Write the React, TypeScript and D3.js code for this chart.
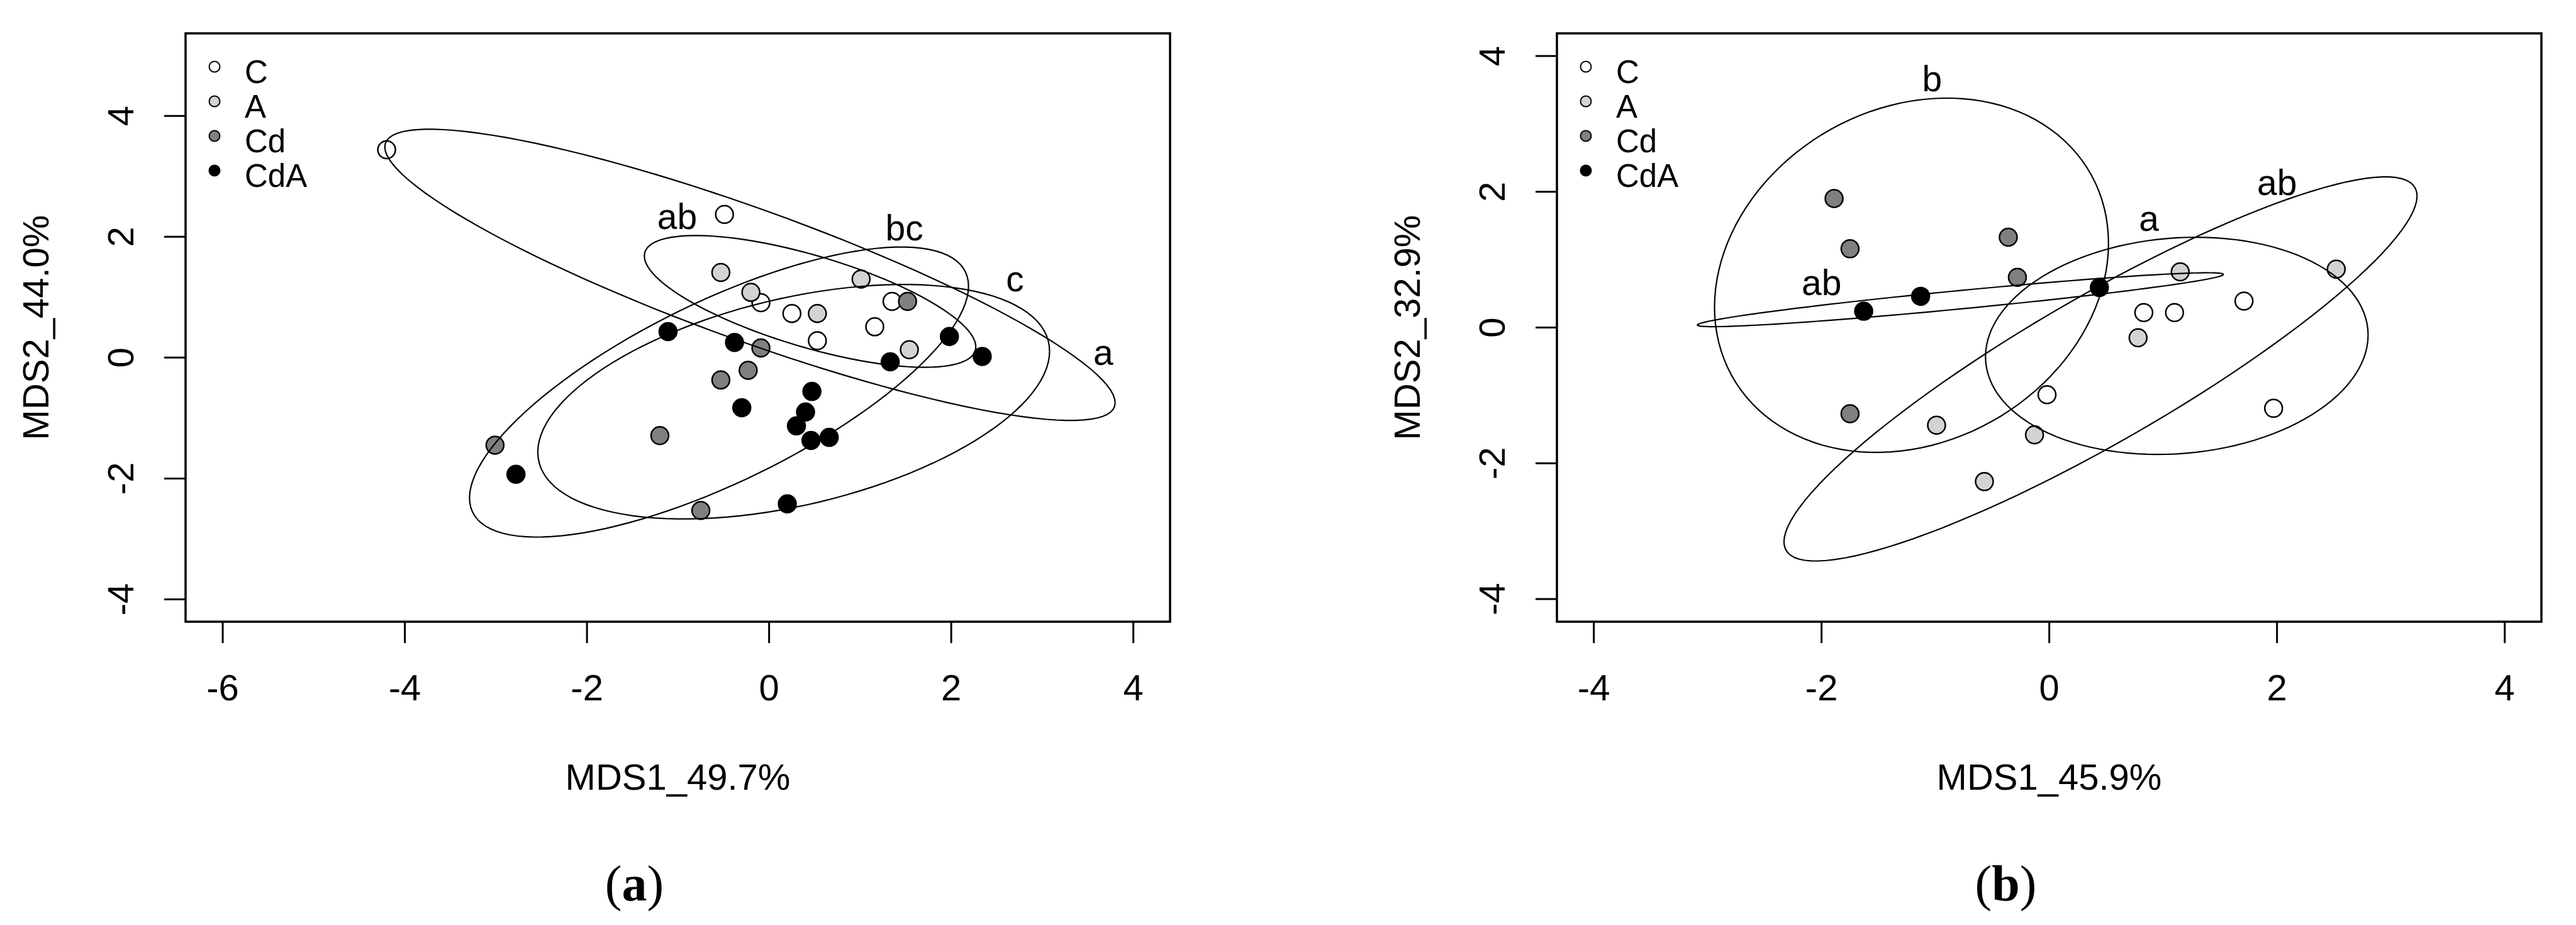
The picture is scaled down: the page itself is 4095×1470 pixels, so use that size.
import React from 'react';
import * as d3 from 'd3';

// ---------- data ----------
const groupNames = ['C', 'A', 'Cd', 'CdA'];
const groupFills = ['#ffffff', '#d3d3d3', '#808080', '#000000'];

// panel (a) points [MDS1, MDS2]
const aC = [[-4.20, 3.44], [-0.49, 2.37], [-0.09, 0.91], [0.25, 0.73], [1.35, 0.93], [1.16, 0.51], [0.53, 0.28]];
const aA = [[-0.53, 1.41], [-0.20, 1.08], [0.53, 0.73], [1.01, 1.30], [1.54, 0.13]];
const aCd = [[1.52, 0.93], [-0.09, 0.16], [-0.23, -0.21], [-0.53, -0.37], [-1.20, -1.29], [-3.01, -1.45], [-0.75, -2.53]];
const aCdA = [[-1.11, 0.43], [-0.38, 0.25], [1.98, 0.35], [2.34, 0.02], [1.33, -0.07], [0.47, -0.56], [-0.30, -0.83],
  [0.40, -0.90], [0.30, -1.13], [0.46, -1.37], [0.66, -1.32], [-2.78, -1.93], [0.20, -2.42]];

// panel (b) points
const bC = [[0.83, 0.22], [1.10, 0.22], [1.71, 0.39], [-0.02, -0.99], [1.97, -1.19]];
const bA = [[1.15, 0.82], [2.52, 0.86], [0.78, -0.15], [-0.99, -1.44], [-0.13, -1.58], [-0.57, -2.27]];
const bCd = [[-1.89, 1.90], [-1.75, 1.16], [-0.36, 1.33], [-0.28, 0.74], [-1.75, -1.27]];
const bCdA = [[-1.63, 0.24], [-1.13, 0.46], [0.44, 0.59]];

// ellipses [centerX, centerY, halfWidth, halfHeight, correlation] per group (C, A, Cd, CdA)
const aEllipses = [
  [-0.21, 1.37, 4.01, 2.41, -0.878],
  [0.45, 0.93, 1.82, 1.09, -0.69],
  [-0.55, -0.57, 2.74, 2.40, 0.73],
  [0.27, -0.73, 2.81, 1.94, 0.43],
];
const bEllipses = [
  [1.12, -0.27, 1.68, 1.60, 0.10],
  [0.45, -0.61, 2.78, 2.83, 0.90],
  [-1.21, 0.77, 1.73, 2.61, 0.18],
  [-0.78, 0.41, 2.31, 0.397, 0.9395],
];

// group letters [text, x, y(baseline)]
const aLetters = [['a', 3.67, -0.12], ['ab', -1.01, 2.13], ['bc', 1.485, 1.94], ['c', 2.70, 1.10]];
const bLetters = [['a', 0.875, 1.42], ['ab', 2.00, 1.955], ['b', -1.03, 3.48], ['ab', -2.00, 0.48]];

const aXTicks = [-6, -4, -2, 0, 2, 4];
const bXTicks = [-4, -2, 0, 2, 4];
const yTicks = [-4, -2, 0, 2, 4];

const aXDomain = [-6.408, 4.403];
const aYDomain = [-4.370, 5.366];
const bXDomain = [-4.324, 4.322];
const bYDomain = [-4.334, 4.334];

// ---------- layout ----------
const W = 4095;
const H = 1470;
const TOP = 53;
const BOTTOM = 988;
const PW = 1565;
const SANS = '"Liberation Sans", Arial, sans-serif';
const SERIF = '"Liberation Serif", "Times New Roman", serif';

function ellipsePath(e: number[], xs: any, ys: any) {
  const [cx, cy, sx, sy, r] = e;
  const n = 120;
  const q = Math.sqrt(1 - r * r);
  const pts = d3.range(n + 1).map((i) => {
    const t = (2 * Math.PI * i) / n;
    return [xs(cx + sx * Math.cos(t)), ys(cy + sy * (r * Math.cos(t) + q * Math.sin(t)))] as [number, number];
  });
  return d3.line()(pts) || '';
}

function Panel(props: any) {
  const { left, xDomain, yDomain, xTicks, groups, ellipses, letters, xLabel, yLabel, caption } = props;
  const right = left + PW;
  const xs = d3.scaleLinear().domain(xDomain).range([left, right]);
  const ys = d3.scaleLinear().domain(yDomain).range([BOTTOM, TOP]);
  const cxBox = (left + right) / 2;
  const cyBox = (TOP + BOTTOM) / 2;
  return (
    <g>
      {/* points */}
      {groups.map((pts: number[][], gi: number) =>
        pts.map((p, i) => (
          <circle key={`p${gi}-${i}`} cx={xs(p[0])} cy={ys(p[1])} r={14}
            fill={groupFills[gi]} stroke="#000" strokeWidth={2.5} />
        ))
      )}
      {/* ellipses */}
      {ellipses.map((e: number[], i: number) => (
        <path key={`e${i}`} d={ellipsePath(e, xs, ys)} fill="none" stroke="#000" strokeWidth={2.2} />
      ))}
      {/* letters */}
      {letters.map((l: any[], i: number) => (
        <text key={`l${i}`} x={xs(l[1])} y={ys(l[2])} textAnchor="middle" fontFamily={SANS} fontSize={57} fill="#000">{l[0]}</text>
      ))}
      {/* legend */}
      {groupNames.map((g, i) => (
        <g key={`lg${i}`}>
          <circle cx={left + 46} cy={106 + i * 55} r={8.5} fill={groupFills[i]} stroke="#000" strokeWidth={2} />
          <text x={left + 94} y={106 + i * 55 + 25.5} fontFamily={SANS} fontSize={51} fill="#000">{g}</text>
        </g>
      ))}
      {/* box */}
      <rect x={left} y={TOP} width={PW} height={BOTTOM - TOP} fill="none" stroke="#000" strokeWidth={3.5} />
      {/* x axis */}
      {xTicks.map((t: number) => (
        <g key={`xt${t}`}>
          <line x1={xs(t)} x2={xs(t)} y1={BOTTOM} y2={BOTTOM + 34} stroke="#000" strokeWidth={3} />
          <text x={xs(t)} y={1113} textAnchor="middle" fontFamily={SANS} fontSize={58} fill="#000">{String(t)}</text>
        </g>
      ))}
      {/* y axis */}
      {yTicks.map((t: number) => (
        <g key={`yt${t}`}>
          <line x1={left - 34} x2={left} y1={ys(t)} y2={ys(t)} stroke="#000" strokeWidth={3} />
          <text transform={`translate(${left - 83},${ys(t)}) rotate(-90)`} textAnchor="middle" fontFamily={SANS} fontSize={58} fill="#000">{String(t)}</text>
        </g>
      ))}
      <text x={cxBox} y={1255} textAnchor="middle" fontFamily={SANS} fontSize={58} fill="#000">{xLabel}</text>
      <text transform={`translate(${left - 218},${cyBox}) rotate(-90)`} textAnchor="middle" fontFamily={SANS} fontSize={58} fill="#000">{yLabel}</text>
      <text x={cxBox - 69} y={1431} textAnchor="middle" fontFamily={SERIF} fontSize={80} fill="#000">
        <tspan>(</tspan><tspan fontWeight="bold">{caption}</tspan><tspan>)</tspan>
      </text>
    </g>
  );
}

export default function App() {
  return (
    <svg width={W} height={H} viewBox={`0 0 ${W} ${H}`} style={{ position: 'absolute', left: 0, top: 0, background: '#fff' }}>
      <rect x={0} y={0} width={W} height={H} fill="#fff" />
      <Panel left={295} xDomain={aXDomain} yDomain={aYDomain} xTicks={aXTicks}
        groups={[aC, aA, aCd, aCdA]} ellipses={aEllipses} letters={aLetters}
        xLabel="MDS1_49.7%" yLabel="MDS2_44.0%" caption="a" />
      <Panel left={2475} xDomain={bXDomain} yDomain={bYDomain} xTicks={bXTicks}
        groups={[bC, bA, bCd, bCdA]} ellipses={bEllipses} letters={bLetters}
        xLabel="MDS1_45.9%" yLabel="MDS2_32.9%" caption="b" />
    </svg>
  );
}
